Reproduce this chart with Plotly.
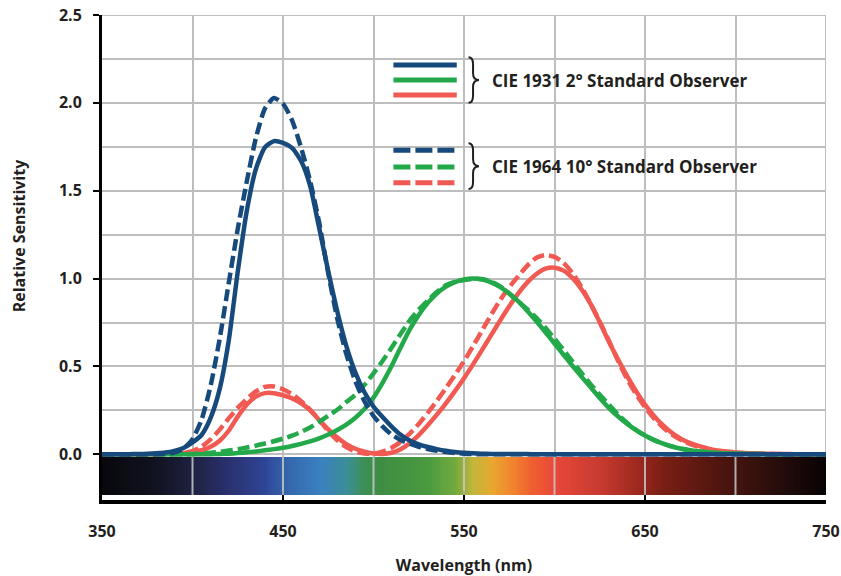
import numpy as np
import plotly.graph_objects as go

# ---------------- data ----------------
wavelength = list(range(350, 755, 5))

# CIE 1931 2-degree observer
x2 = [0, 0, 0.000130, 0.000232, 0.000415, 0.000742, 0.001368, 0.002236, 0.004243, 0.007650,
      0.014310, 0.023190, 0.043510, 0.077630, 0.134380, 0.214770, 0.283900, 0.328500, 0.348280, 0.348060,
      0.336200, 0.318700, 0.290800, 0.251100, 0.195360, 0.142100, 0.095640, 0.057950, 0.032010, 0.014700,
      0.004900, 0.002400, 0.009300, 0.029100, 0.063270, 0.109600, 0.165500, 0.225750, 0.290400, 0.359700,
      0.433450, 0.512050, 0.594500, 0.678400, 0.762100, 0.842500, 0.916300, 0.978600, 1.026300, 1.056700,
      1.062200, 1.045600, 1.002600, 0.938400, 0.854450, 0.751400, 0.642400, 0.541900, 0.447900, 0.360800,
      0.283500, 0.218700, 0.164900, 0.121200, 0.087400, 0.063600, 0.046770, 0.032900, 0.022700, 0.015840,
      0.011359, 0.008111, 0.005790, 0.004109, 0.002899, 0.002049, 0.001440, 0.001000, 0.000690, 0.000476,
      0.000332]
y2 = [0, 0, 0.000004, 0.000007, 0.000012, 0.000022, 0.000039, 0.000064, 0.000120, 0.000217,
      0.000396, 0.000640, 0.001210, 0.002180, 0.004000, 0.007300, 0.011600, 0.016840, 0.023000, 0.029800,
      0.038000, 0.048000, 0.060000, 0.073900, 0.090980, 0.112600, 0.139020, 0.169300, 0.208020, 0.258600,
      0.323000, 0.407300, 0.503000, 0.608200, 0.710000, 0.793200, 0.862000, 0.914850, 0.954000, 0.980300,
      0.994950, 1.000000, 0.995000, 0.978600, 0.952000, 0.915400, 0.870000, 0.816300, 0.757000, 0.694900,
      0.631000, 0.566800, 0.503000, 0.441200, 0.381000, 0.321000, 0.265000, 0.217000, 0.175000, 0.138200,
      0.107000, 0.081600, 0.061000, 0.044580, 0.032000, 0.023200, 0.017000, 0.011920, 0.008210, 0.005723,
      0.004102, 0.002929, 0.002091, 0.001484, 0.001047, 0.000740, 0.000520, 0.000361, 0.000249, 0.000172,
      0.000120]
z2 = [0, 0, 0.000606, 0.001086, 0.001946, 0.003486, 0.006450, 0.010550, 0.020050, 0.036210,
      0.067850, 0.110200, 0.207400, 0.371300, 0.645600, 1.039050, 1.385600, 1.622960, 1.747060, 1.782600,
      1.772110, 1.744100, 1.669200, 1.528100, 1.287640, 1.041900, 0.812950, 0.616200, 0.465180, 0.353300,
      0.272000, 0.212300, 0.158200, 0.111700, 0.078250, 0.057250, 0.042160, 0.029840, 0.020300, 0.013400,
      0.008750, 0.005750, 0.003900, 0.002750, 0.002100, 0.001800, 0.001650, 0.001400, 0.001100, 0.001000,
      0.000800, 0.000600, 0.000340, 0.000240, 0.000190, 0.000100, 0.000050, 0.000030, 0.000020, 0.000010,
      0, 0, 0, 0, 0, 0, 0, 0, 0, 0,
      0, 0, 0, 0, 0, 0, 0, 0, 0, 0,
      0]

# CIE 1964 10-degree observer
x10 = [0, 0, 0, 0, 0.000006, 0.000033, 0.000160, 0.000662, 0.002362, 0.007242,
       0.019110, 0.043400, 0.084736, 0.140638, 0.204492, 0.264737, 0.314679, 0.357719, 0.383734, 0.386726,
       0.370702, 0.342957, 0.302273, 0.254085, 0.195618, 0.132349, 0.080507, 0.041072, 0.016172, 0.005132,
       0.003816, 0.015444, 0.037465, 0.071358, 0.117749, 0.172953, 0.236491, 0.304213, 0.376772, 0.451584,
       0.529826, 0.616053, 0.705224, 0.793832, 0.878655, 0.951162, 1.014160, 1.074300, 1.118520, 1.134300,
       1.123990, 1.089100, 1.030480, 0.950740, 0.856297, 0.754930, 0.647467, 0.535110, 0.431567, 0.343690,
       0.268329, 0.204300, 0.152568, 0.112210, 0.081261, 0.057930, 0.040851, 0.028623, 0.019941, 0.013842,
       0.009577, 0.006605, 0.004553, 0.003145, 0.002175, 0.001506, 0.001045, 0.000727, 0.000508, 0.000356,
       0.000251]
y10 = [0, 0, 0, 0, 0.000001, 0.000004, 0.000017, 0.000072, 0.000253, 0.000769,
       0.002004, 0.004509, 0.008756, 0.014456, 0.021391, 0.029497, 0.038676, 0.049602, 0.062077, 0.074704,
       0.089456, 0.106256, 0.128201, 0.152761, 0.185190, 0.219940, 0.253589, 0.297665, 0.339133, 0.395379,
       0.460777, 0.531360, 0.606741, 0.685660, 0.761757, 0.823330, 0.875211, 0.923810, 0.961988, 0.982200,
       0.991761, 0.999110, 0.997340, 0.982380, 0.955552, 0.915175, 0.868934, 0.825623, 0.777405, 0.720353,
       0.658341, 0.593878, 0.527963, 0.461834, 0.398057, 0.339554, 0.283493, 0.228254, 0.179828, 0.140211,
       0.107633, 0.081187, 0.060281, 0.044096, 0.031800, 0.022602, 0.015905, 0.011130, 0.007749, 0.005375,
       0.003718, 0.002565, 0.001768, 0.001222, 0.000846, 0.000586, 0.000407, 0.000284, 0.000199, 0.000140,
       0.000098]
z10 = [0, 0, 0, 0.000004, 0.000026, 0.000147, 0.000705, 0.002928, 0.010482, 0.032344,
       0.086011, 0.197120, 0.389366, 0.656760, 0.972542, 1.282500, 1.553480, 1.798500, 1.967280, 2.027300,
       1.994800, 1.900700, 1.745370, 1.554900, 1.317560, 1.030200, 0.772125, 0.570060, 0.415254, 0.302356,
       0.218502, 0.159249, 0.112044, 0.082248, 0.060709, 0.043050, 0.030451, 0.020584, 0.013676, 0.007918,
       0.003988, 0.001091, 0, 0, 0, 0, 0, 0, 0, 0,
       0, 0, 0, 0, 0, 0, 0, 0, 0, 0,
       0, 0, 0, 0, 0, 0, 0, 0, 0, 0,
       0, 0, 0, 0, 0, 0, 0, 0, 0, 0,
       0]

# visible-spectrum colour stops for the strip under the chart
spectrum_nm = [350, 380, 400, 420, 440, 452, 470, 485, 495, 505, 530, 545, 555, 565, 575, 587, 600, 625, 645, 660, 690, 720, 750]
spectrum_colors = ["#07070c", "#111320", "#1e2140", "#2a3170", "#2f4596", "#3566ac", "#3a80c0", "#3b8e98", "#3d8f55",
                   "#3f8d42", "#4a9a40", "#72aa3e", "#c2b63a", "#e8a830", "#f08a2e", "#f0602f", "#e8483a", "#c83a30",
                   "#a02a20", "#7a1e14", "#501610", "#2a0e0c", "#070303"]

x_ticks = [350, 450, 550, 650, 750]
x_grid = [400, 450, 500, 550, 600, 650, 700]
x_range = [350, 750]
y_range_top = 2.5

legend_2deg = "CIE 1931 2° Standard Observer"
legend_10deg = "CIE 1964 10° Standard Observer"

BLUE = "#174a7c"
GREEN = "#23a84a"
RED = "#f05a52"
TXT = "#231f20"
GRID = "#bdbdbd"
FONT = "'Open Sans', Lato, sans-serif"

# ---------------- figure ----------------
fig = go.Figure()

series = [
    (x2, RED, "solid"), (x10, RED, "12px,5px"),
    (y2, GREEN, "solid"), (y10, GREEN, "12px,5px"),
    (z2, BLUE, "solid"), (z10, BLUE, "12px,5px"),
]
for vals, col, dash in series:
    fig.add_trace(go.Scatter(x=wavelength, y=vals, mode="lines",
                             line=dict(color=col, width=4.5, dash=dash, shape="spline", smoothing=0.6),
                             xaxis="x", yaxis="y", showlegend=False, hoverinfo="skip"))

# spectrum strip
grid_nm = np.arange(350, 751, 1)
lo, hi = spectrum_nm[0], spectrum_nm[-1]
cscale = [[(w - lo) / (hi - lo), c] for w, c in zip(spectrum_nm, spectrum_colors)]
fig.add_trace(go.Heatmap(x=grid_nm, y=[0.5], z=[grid_nm], colorscale=cscale, zmin=lo, zmax=hi,
                         showscale=False, xaxis="x2", yaxis="y2", hoverinfo="skip"))

shapes = []
for w in x_grid:
    shapes.append(dict(type="line", xref="x2", yref="y2", x0=w, x1=w, y0=0, y1=1,
                       line=dict(color="rgba(200,200,200,0.85)", width=2), layer="above"))

# grey frame on top and right of the main panel
shapes.append(dict(type="line", xref="x", yref="y", x0=x_range[0], x1=x_range[1],
                   y0=y_range_top, y1=y_range_top, line=dict(color=GRID, width=2), layer="below"))
shapes.append(dict(type="line", xref="x", yref="y", x0=x_range[1], x1=x_range[1],
                   y0=0, y1=y_range_top, line=dict(color=GRID, width=2), layer="below"))

# legend samples (drawn in data units of the main axes)
lx0, lx1 = 511, 546
for yy, col in zip([2.215, 2.13, 2.045], [BLUE, GREEN, RED]):
    shapes.append(dict(type="line", xref="x", yref="y", x0=lx0, x1=lx1, y0=yy, y1=yy,
                       line=dict(color=col, width=5)))
for yy, col in zip([1.73, 1.635, 1.545], [BLUE, GREEN, RED]):
    shapes.append(dict(type="line", xref="x", yref="y", x0=lx0, x1=lx1, y0=yy, y1=yy,
                       line=dict(color=col, width=5, dash="17px,5px")))

def brace(yt, yb, ym, bx0=552.5, bx1=555.0, bx2=558.3, d=0.04):
    return (f"M {bx0},{yt} Q {bx1},{yt} {bx1},{yt-d} L {bx1},{ym+d} Q {bx1},{ym} {bx2},{ym} "
            f"Q {bx1},{ym} {bx1},{ym-d} L {bx1},{yb+d} Q {bx1},{yb} {bx0},{yb}")

for yt, yb, ym in [(2.26, 2.0, 2.13), (1.77, 1.51, 1.64)]:
    shapes.append(dict(type="path", xref="x", yref="y", path=brace(yt, yb, ym),
                       line=dict(color=TXT, width=2)))

annotations = [
    dict(x=564.5, y=2.13, xref="x", yref="y", text=legend_2deg, showarrow=False, xanchor="left",
         font=dict(family=FONT, size=17, color=TXT, weight=700)),
    dict(x=564.5, y=1.64, xref="x", yref="y", text=legend_10deg, showarrow=False, xanchor="left",
         font=dict(family=FONT, size=17, color=TXT, weight=700)),
]

H = 576
T, B = 15, 76
ph = H - T - B
def frac(py):
    return (H - B - py) / ph

fig.update_layout(
    width=841, height=576,
    margin=dict(l=102, r=15, t=T, b=B, autoexpand=False),
    paper_bgcolor="white", plot_bgcolor="white",
    font=dict(family=FONT, color=TXT),
    shapes=shapes, annotations=annotations,
    xaxis=dict(domain=[0, 1], anchor="y", range=x_range, showticklabels=False, ticks="",
               showgrid=True, dtick=50, tick0=350, gridcolor=GRID, gridwidth=2, zeroline=False,
               showline=False, automargin=False),
    yaxis=dict(domain=[frac(457), 1], anchor="x", range=[-0.015, y_range_top], dtick=0.5, tick0=0,
               tickformat=".1f", ticks="outside", ticklen=6, tickwidth=2, tickcolor="black",
               showline=True, linecolor="black", linewidth=3, showgrid=True, gridcolor=GRID,
               gridwidth=2, zeroline=False, automargin=False,
               minor=dict(dtick=0.25, tick0=0, showgrid=True, gridcolor=GRID, gridwidth=2, ticks=""),
               tickfont=dict(family=FONT, size=16, color=TXT, weight=700), ticklabelstandoff=8,
               title=dict(text="Relative Sensitivity", standoff=30,
                          font=dict(family=FONT, size=16, color=TXT, weight=700))),
    xaxis2=dict(domain=[0, 1], anchor="y2", range=x_range, tickvals=x_ticks, ticks="inside",
                ticklen=9, tickwidth=2, tickcolor="black", showline=True, linecolor="black",
                linewidth=4, showgrid=False, zeroline=False, automargin=False,
                tickfont=dict(family=FONT, size=16, color=TXT, weight=700), ticklabelstandoff=14,
                title=dict(text="Wavelength (nm)", standoff=20,
                           font=dict(family=FONT, size=16, color=TXT, weight=700))),
    yaxis2=dict(domain=[0, frac(457)], anchor="x2", range=[-0.13, 1], showticklabels=False, ticks="",
                showline=True, linecolor="black", linewidth=3, showgrid=False, zeroline=False,
                automargin=False),
)

fig.write_html("out.html", config={"displayModeBar": False},
               post_script="document.body.style.margin='0';document.body.style.overflow='hidden';")
